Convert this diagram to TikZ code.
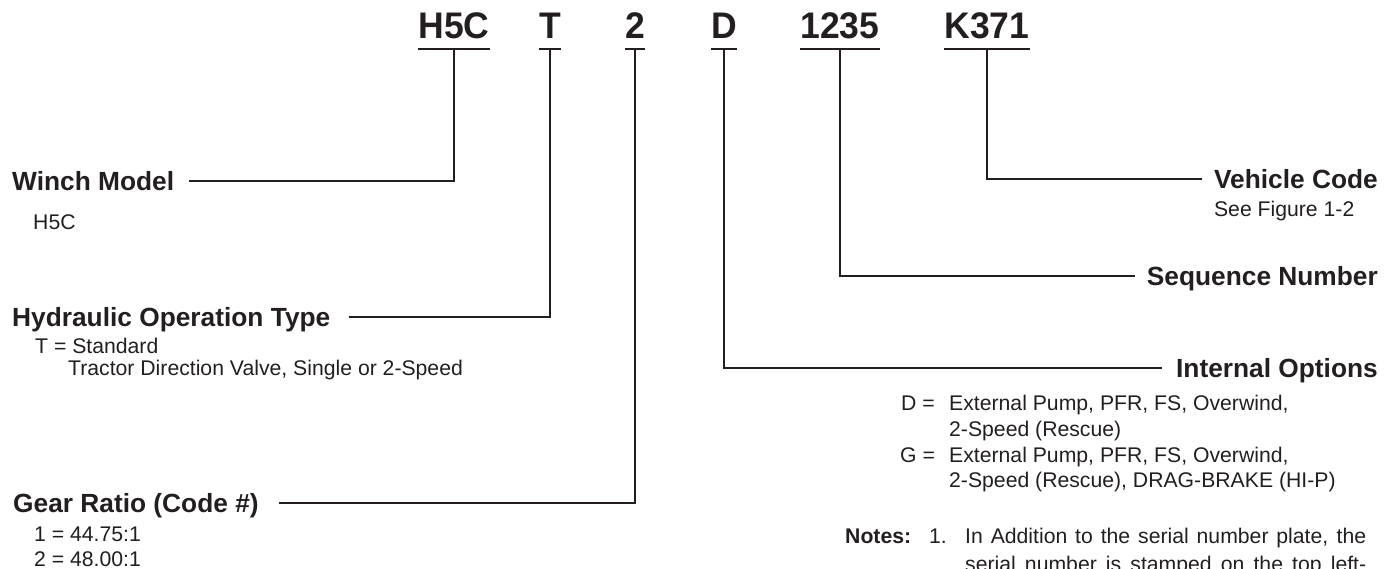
\documentclass[tikz,border=0pt]{standalone}
\usepackage{fontspec}
\setmainfont{Liberation Sans}
\newfontfamily\codefont{Liberation Sans}[FakeStretch=0.96]
\usepackage{xcolor}
\usetikzlibrary{positioning,calc}
\definecolor{ink}{HTML}{231F20}

\begin{document}
\begin{tikzpicture}[x=1pt, y=-1pt,
        code/.style={font={\codefont\bfseries\fontsize{37}{40}\selectfont}, inner xsep=0pt, inner ysep=0pt, text depth=9.5pt, anchor=base, text=ink},
        head/.style={font={\bfseries\fontsize{26.3}{30}\selectfont}, inner sep=0pt, text height=18.8pt, text depth=0pt, text=ink},
        body/.style={font={\fontsize{21.2}{24}\selectfont}, inner sep=0pt, anchor=base west, text=ink},
        lead/.style={draw=ink, line width=2pt}]

        \useasboundingbox (0,0) rectangle (1390,569);
        \clip (0,0) rectangle (1390,569);

        % serial code
        \node[code] (model) at (454,39) {H5C};
        \node[code] (optype) at (550,39) {T};
        \node[code] (ratio) at (635,39) {2};
        \node[code] (option) at (724,39) {D};
        \node[code] (seqno) at (840,39) {1235};
        \node[code] (vehno) at (987,39) {K371};
        \foreach \c in {model,optype,ratio,option,seqno,vehno}
            \draw[lead] (\c.south west) -- (\c.south east);

        % left side
        \node[head, anchor=west] (winch) at (12,181) {Winch Model};
        \node[body] (winchval) at (33,230) {H5C};

        \node[head, anchor=west] (hydr) at (12,317) {Hydraulic Operation Type};
        \node[body] (hydrval) at (35,353) {T = Standard};
        \node[body] (hydrdesc) at (68,375) {Tractor Direction Valve, Single or 2-Speed};

        \node[head, anchor=west] (gear) at (13,503) {Gear Ratio (Code \#)};
        \node[body] (gear1) at (34,541) {1 = 44.75:1};
        \node[body] (gear2) at (34,566) {2 = 48.00:1};

        % right side
        \node[head, anchor=east] (vehicle) at (1378,179) {Vehicle Code};
        \node[body] (vehref) at ([yshift=-38pt]vehicle.west) {See Figure 1-2};

        \node[head, anchor=east] (sequence) at (1378,276) {Sequence Number};

        \node[head, anchor=east] (internal) at (1378,368) {Internal Options};
        \node[body] (optD) at (901,410) {D =};
        \node[body] (optDa) at (949,410) {External Pump, PFR, FS, Overwind,};
        \node[body] (optDb) at (949,436) {2-Speed (Rescue)};
        \node[body] (optG) at (900,462) {G =};
        \node[body] (optGa) at (949,462) {External Pump, PFR, FS, Overwind,};
        \node[body] (optGb) at (949,487) {2-Speed (Rescue), DRAG-BRAKE (HI-P)};

        \node[body, font={\bfseries\fontsize{21.2}{24}\selectfont}] (notes) at (845,543) {Notes:};
        \node[body] (num1) at (929,543) {1.};
        \node[body] (note1a) at (965,543) {\makebox[401pt][s]{In Addition to the serial number plate, the}};
        \node[body] (note1b) at (965,571) {\makebox[401pt][s]{serial number is stamped on the top left-}};

        % leaders
        \draw[lead] ([xshift=15pt]winch.east) -| (model.south);
        \draw[lead] ([xshift=18pt]hydr.east) -| (optype.south);
        \draw[lead] ([xshift=20pt]gear.east) -| (ratio.south);
        \draw[lead] ([xshift=-12pt]vehicle.west) -| (vehno.south);
        \draw[lead] ([xshift=-12pt]sequence.west) -| (seqno.south);
        \draw[lead] ([xshift=-14pt]internal.west) -| (option.south);

    \end{tikzpicture}
\end{document}
